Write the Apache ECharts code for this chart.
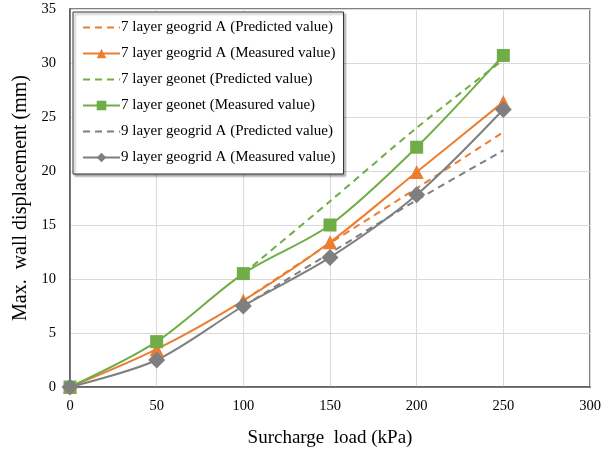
<!DOCTYPE html>
<html><head><meta charset="utf-8">
<script src="https://cdn.jsdelivr.net/npm/echarts@6/dist/echarts.min.js"></script>
<style>html,body{margin:0;padding:0;background:#fff}#c{width:614px;height:454px}</style>
</head><body><div id="c"></div>
<script>
var loads = [0, 50, 100, 150, 200, 250];
var predLoads = [100, 150, 200, 250];
var geogrid7Pred = [8.0, 13.3, 18.4, 23.6];
var geogrid7Meas = [0, 3.5, 8.0, 13.4, 19.9, 26.4];
var geonet7Pred = [10.5, 17.2, 24.0, 30.3];
var geonet7Meas = [0, 4.2, 10.5, 15.0, 22.2, 30.7];
var geogrid9Pred = [7.5, 12.4, 17.3, 21.9];
var geogrid9Meas = [0, 2.5, 7.5, 12.0, 17.8, 25.7];
var names = ['7 layer geogrid A (Predicted value)', '7 layer geogrid A (Measured value)',
  '7 layer geonet (Predicted value)', '7 layer geonet (Measured value)',
  '9 layer geogrid A (Predicted value)', '9 layer geogrid A (Measured value)'];
var xTicks = [0, 50, 100, 150, 200, 250, 300];
var yTicks = [0, 5, 10, 15, 20, 25, 30, 35];

function pairs(xs, ys) { return xs.map(function (x, i) { return [x, ys[i]]; }); }
var ORANGE = '#ED7D31', GREEN = '#70AD47', GRAY = '#7F7F7F';
function pred(name, ys, color) {
  return { name: name, type: 'line', data: pairs(predLoads, ys), symbol: 'none', smooth: 0.3,
    lineStyle: { color: color, width: 2, type: [7, 5] }, itemStyle: { color: color }, z: 2 };
}
function meas(name, ys, color, sym, size) {
  return { name: name, type: 'line', data: pairs(loads, ys), symbol: sym, symbolSize: size, smooth: 0.3,
    showAllSymbol: true,
    lineStyle: { color: color, width: 2 }, itemStyle: { color: color }, z: 3 };
}
var font = 'Liberation Serif, Times New Roman, serif';
var legendData = names.map(function (n, i) {
  return i % 2 === 0 ? { name: n, itemStyle: { color: 'rgba(0,0,0,0)', borderWidth: 0 } } : { name: n };
});
var chart = echarts.init(document.getElementById('c'), null, { renderer: 'canvas' });
chart.setOption({
  animation: false,
  backgroundColor: '#fff',
  grid: { left: 70, right: 24, top: 9, bottom: 67, show: true, borderColor: '#595959', borderWidth: 1.5 },
  xAxis: {
    type: 'value', min: 0, max: 300, interval: 50,
    name: 'Surcharge  load (kPa)', nameLocation: 'middle', nameGap: 42,
    nameTextStyle: { fontFamily: font, fontSize: 19, color: '#000' },
    axisLine: { show: true, lineStyle: { color: '#595959', width: 1.5 } },
    axisTick: { show: false },
    axisLabel: { fontFamily: font, fontSize: 14.5, color: '#000', margin: 12 },
    splitLine: { show: true, lineStyle: { color: '#d9d9d9', width: 1 } }
  },
  yAxis: {
    type: 'value', min: 0, max: 35, interval: 5,
    name: 'Max.  wall displacement (mm)', nameLocation: 'middle', nameGap: 37, nameRotate: 90,
    nameTextStyle: { fontFamily: font, fontSize: 20, color: '#000' },
    axisLine: { show: true, lineStyle: { color: '#595959', width: 1.5 } },
    axisTick: { show: false },
    axisLabel: { fontFamily: font, fontSize: 14.5, color: '#000', margin: 14 },
    splitLine: { show: true, lineStyle: { color: '#d9d9d9', width: 1 } }
  },
  legend: {
    orient: 'vertical', left: 73, top: 12, itemWidth: 37, itemHeight: 12, itemGap: 11,
    padding: [8, 8, 9, 9],
    backgroundColor: '#fff', borderColor: '#333', borderWidth: 1,
    shadowColor: 'rgba(0,0,0,0.35)', shadowOffsetX: 2, shadowOffsetY: 2, shadowBlur: 2,
    textStyle: { fontFamily: font, fontSize: 15, color: '#000', padding: [0, 0, 0, -4] },
    data: legendData
  },
  series: [
    pred(names[0], geogrid7Pred, ORANGE),
    meas(names[1], geogrid7Meas, ORANGE, 'triangle', 14),
    pred(names[2], geonet7Pred, GREEN),
    meas(names[3], geonet7Meas, GREEN, 'rect', 13),
    pred(names[4], geogrid9Pred, GRAY),
    meas(names[5], geogrid9Meas, GRAY, 'diamond', 17)
  ]
});
</script></body></html>
